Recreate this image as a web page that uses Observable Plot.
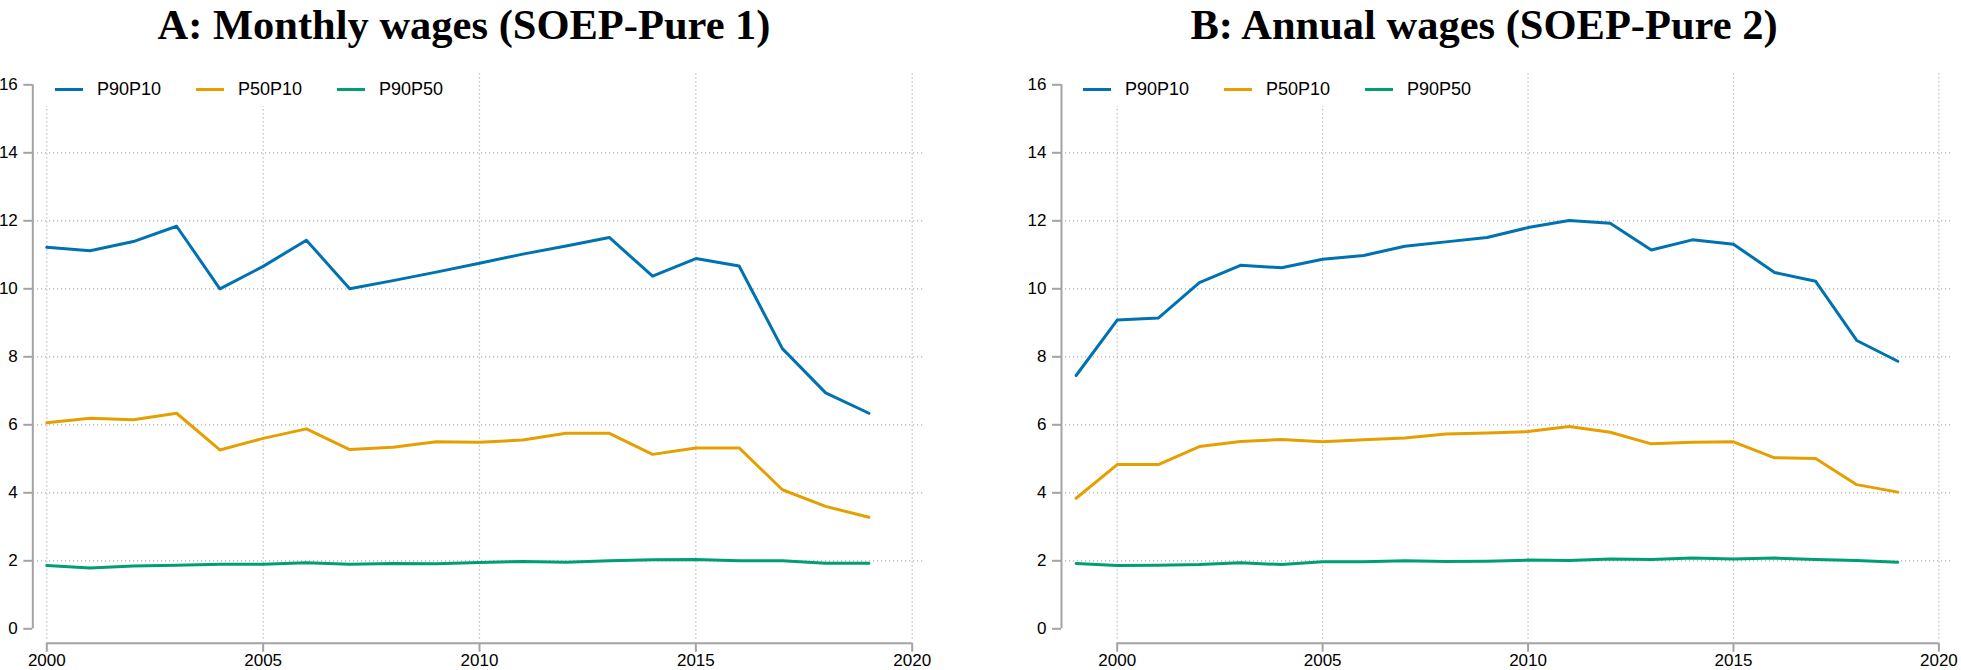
<!DOCTYPE html>
<html>
<head>
<meta charset="utf-8">
<script src="https://cdn.jsdelivr.net/npm/d3@7"></script>
<script src="https://cdn.jsdelivr.net/npm/@observablehq/plot@0.6"></script>
<style>
  html, body { margin: 0; padding: 0; background: #fff; }
  #root { position: relative; width: 1961px; height: 670px; overflow: hidden; background: #fff; }
  .panel { position: absolute; top: 0; }
  .title { position: absolute; top: 0px; width: 1000px; text-align: center;
           font: bold 42.5px "Liberation Serif", "Times New Roman", serif; line-height: normal; color: #000; white-space: nowrap; }
  .legend { position: absolute; background: #fff; height: 34px; }
  .item { position: absolute; top: 0; height: 34px; display: flex; align-items: center;
          font: 18px "Liberation Sans", Arial, sans-serif; color: #000; white-space: nowrap; }
  .sw { display: inline-block; width: 28px; height: 3px; margin-right: 14px; }
</style>
</head>
<body>
<div id="root"></div>
<script>
// ---------- data ----------
const seriesNames = ["P90P10", "P50P10", "P90P50"];
const seriesColors = ["#0072B2", "#E69F00", "#009E73"];

const titleA = "A: Monthly wages (SOEP-Pure 1)";
const titleB = "B: Annual wages (SOEP-Pure 2)";

const yearsA = [2000, 2001, 2002, 2003, 2004, 2005, 2006, 2007, 2008, 2009,
                2010, 2011, 2012, 2013, 2014, 2015, 2016, 2017, 2018, 2019];
const a_P90P10 = [11.22, 11.12, 11.39, 11.84, 10.00, 10.66, 11.43, 10.00, 10.24, 10.49,
                  10.75, 11.02, 11.26, 11.51, 10.37, 10.89, 10.67, 8.24, 6.94, 6.34];
const a_P50P10 = [6.06, 6.19, 6.15, 6.34, 5.26, 5.60, 5.88, 5.27, 5.34, 5.50,
                  5.49, 5.55, 5.75, 5.75, 5.13, 5.32, 5.32, 4.09, 3.60, 3.28];
const a_P90P50 = [1.86, 1.79, 1.85, 1.87, 1.90, 1.90, 1.94, 1.90, 1.92, 1.91,
                  1.95, 1.98, 1.96, 2.00, 2.03, 2.04, 2.00, 2.00, 1.93, 1.93];

const yearsB = [1999, 2000, 2001, 2002, 2003, 2004, 2005, 2006, 2007, 2008, 2009,
                2010, 2011, 2012, 2013, 2014, 2015, 2016, 2017, 2018, 2019];
const b_P90P10 = [7.45, 9.08, 9.14, 10.18, 10.69, 10.62, 10.87, 10.98, 11.25, 11.38, 11.51,
                  11.80, 12.01, 11.93, 11.14, 11.44, 11.31, 10.48, 10.22, 8.48, 7.87];
const b_P50P10 = [3.84, 4.83, 4.83, 5.36, 5.51, 5.57, 5.50, 5.56, 5.61, 5.73, 5.76,
                  5.80, 5.95, 5.78, 5.44, 5.49, 5.50, 5.03, 5.01, 4.24, 4.02];
const b_P90P50 = [1.92, 1.86, 1.87, 1.89, 1.94, 1.89, 1.97, 1.97, 2.00, 1.98, 1.99,
                  2.02, 2.01, 2.05, 2.04, 2.08, 2.05, 2.08, 2.04, 2.01, 1.96];

const xTicks = [2000, 2005, 2010, 2015, 2020];
const yTicks = [0, 2, 4, 6, 8, 10, 12, 14, 16];
const yGrid = [2, 4, 6, 8, 10, 12, 14];

// ---------- build ----------
function toRows(years, cols) {
  const rows = [];
  seriesNames.forEach((s, i) => years.forEach((yr, j) => rows.push({year: yr, value: cols[i][j], series: s})));
  return rows;
}

const axisGray = "#a3a3a3";
const gridGray = "#b0b0b0";

function panel(opts) {
  const root = document.getElementById("root");
  const wrap = document.createElement("div");
  wrap.className = "panel";
  wrap.style.left = opts.left + "px";
  wrap.style.width = opts.width + "px";
  wrap.style.height = "670px";

  const rows = toRows(opts.years, opts.cols);
  const chart = Plot.plot({
    width: opts.width,
    height: 670,
    marginLeft: opts.marginLeft,
    marginRight: opts.marginRight,
    marginTop: 84.3,
    marginBottom: 41.7,
    style: {background: "transparent", fontFamily: "'Liberation Sans', Arial, sans-serif"},
    x: {domain: [2000, 2020], axis: null},
    y: {domain: [0, 16], axis: null},
    color: {domain: seriesNames, range: seriesColors},
    marks: [
      Plot.ruleY(yGrid, {x1: () => opts.gridX[0], x2: () => opts.gridX[1], stroke: gridGray, strokeWidth: 1.2, strokeDasharray: "1.2,2.8"}),
      Plot.ruleX(xTicks, {y1: () => -0.3, y2: () => 16.36, stroke: gridGray, strokeWidth: 1.2, strokeDasharray: "1.2,2.8"}),
      // y axis line + ticks
      Plot.ruleX([2000], {y1: () => 0, y2: () => 16, dx: opts.axisDx, stroke: axisGray, strokeWidth: 2}),
      Plot.axisY(yTicks, {anchor: "left", dx: opts.axisDx, tickSize: 9, tickPadding: 6, stroke: axisGray, strokeWidth: 2, fill: "#000", fontSize: 17, label: null}),
      // x axis line + ticks
      Plot.ruleY([0], {x1: () => 2000, x2: () => 2020, dy: 14.4, stroke: axisGray, strokeWidth: 2}),
      Plot.axisX(xTicks, {anchor: "bottom", dy: 14.4, tickSize: 9, tickPadding: 2, stroke: axisGray, strokeWidth: 2, fill: "#000", fontSize: 17, label: null, tickFormat: d => String(d)}),
      Plot.line(rows, {x: "year", y: "value", z: "series", stroke: "series", strokeWidth: 3, strokeLinejoin: "round"})
    ]
  });
  wrap.appendChild(chart);

  const t = document.createElement("div");
  t.className = "title";
  t.textContent = opts.title;
  t.style.left = (opts.titleCenter - 500) + "px";
  wrap.appendChild(t);

  const lg = document.createElement("div");
  lg.className = "legend";
  lg.style.left = opts.legendLeft + "px";
  lg.style.top = "72px";
  lg.style.width = "430px";
  seriesNames.forEach((s, i) => {
    const it = document.createElement("div");
    it.className = "item";
    it.style.left = (14 + i * 141) + "px";
    const sw = document.createElement("span");
    sw.className = "sw";
    sw.style.background = seriesColors[i];
    it.appendChild(sw);
    it.appendChild(document.createTextNode(s));
    lg.appendChild(it);
  });
  wrap.appendChild(lg);
  root.appendChild(wrap);
}

panel({left: 0, width: 980, marginLeft: 46.3, marginRight: 68.3, axisDx: -14,
       gridX: [1999.785, 2020.307], years: yearsA, cols: [a_P90P10, a_P50P10, a_P90P50],
       title: titleA, titleCenter: 464, legendLeft: 41});
panel({left: 980, width: 981, marginLeft: 136.7, marginRight: 22.6, axisDx: -55.7,
       gridX: [1998.74, 2020.35], years: yearsB, cols: [b_P90P10, b_P50P10, b_P90P50],
       title: titleB, titleCenter: 504, legendLeft: 89});
</script>
</body>
</html>
